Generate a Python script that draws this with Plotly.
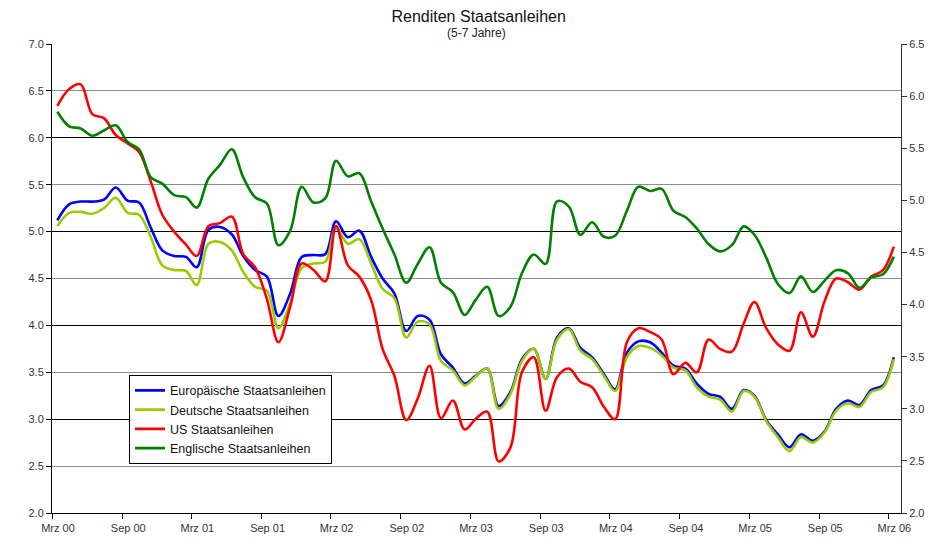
import pandas as pd
import plotly.graph_objects as go

# monthly readings, Mar 2000 .. Mar 2006 (mid-month)
months = pd.date_range('2000-03-01', periods=73, freq='MS') + pd.Timedelta(days=14)

euro = [5.12, 5.29, 5.32, 5.32, 5.34, 5.47, 5.33, 5.31, 5.04, 4.80,
        4.74, 4.73, 4.62, 5.02, 5.05, 4.97, 4.74, 4.59, 4.52, 4.10,
        4.34, 4.73, 4.75, 4.76, 5.11, 4.94, 5.01, 4.73, 4.50, 4.34,
        3.94, 4.10, 4.06, 3.69, 3.55, 3.38, 3.46, 3.54, 3.14, 3.29,
        3.64, 3.75, 3.43, 3.87, 3.97, 3.76, 3.66, 3.48, 3.32, 3.71,
        3.83, 3.82, 3.71, 3.57, 3.54, 3.38, 3.27, 3.24, 3.11, 3.31,
        3.25, 2.99, 2.84, 2.70, 2.84, 2.77, 2.87, 3.11, 3.20, 3.15,
        3.31, 3.36, 3.66]

de = [5.06, 5.20, 5.21, 5.19, 5.25, 5.36, 5.20, 5.18, 4.94, 4.64,
      4.59, 4.58, 4.43, 4.87, 4.89, 4.80, 4.57, 4.41, 4.37, 3.97,
      4.24, 4.61, 4.66, 4.68, 5.04, 4.87, 4.92, 4.66, 4.39, 4.29,
      3.87, 4.04, 4.01, 3.62, 3.52, 3.36, 3.45, 3.54, 3.11, 3.27,
      3.62, 3.75, 3.43, 3.85, 3.96, 3.73, 3.64, 3.46, 3.30, 3.66,
      3.78, 3.76, 3.68, 3.55, 3.52, 3.34, 3.24, 3.21, 3.08, 3.30,
      3.24, 2.98, 2.81, 2.66, 2.81, 2.75, 2.86, 3.09, 3.17, 3.13,
      3.29, 3.34, 3.64]

us = [6.34, 6.52, 6.57, 6.25, 6.21, 6.03, 5.94, 5.85, 5.53, 5.18,
      5.00, 4.86, 4.74, 5.06, 5.09, 5.16, 4.76, 4.62, 4.28, 3.82,
      4.20, 4.66, 4.59, 4.47, 5.06, 4.64, 4.52, 4.27, 3.75, 3.46,
      2.99, 3.22, 3.57, 3.01, 3.20, 2.89, 3.00, 3.08, 2.55, 2.70,
      3.50, 3.66, 3.09, 3.45, 3.54, 3.40, 3.34, 3.13, 3.00, 3.82,
      3.97, 3.93, 3.85, 3.48, 3.60, 3.50, 3.85, 3.75, 3.72, 4.02,
      4.25, 3.97, 3.80, 3.73, 4.14, 3.88, 4.26, 4.50, 4.46, 4.38,
      4.52, 4.59, 4.84]

# UK series is plotted against the right-hand axis
uk = [5.85, 5.71, 5.69, 5.62, 5.67, 5.72, 5.56, 5.49, 5.22, 5.16,
      5.05, 5.03, 4.93, 5.21, 5.34, 5.49, 5.22, 5.03, 4.97, 4.57,
      4.71, 5.13, 4.98, 5.02, 5.38, 5.23, 5.26, 4.99, 4.73, 4.48,
      4.21, 4.39, 4.55, 4.21, 4.12, 3.90, 4.04, 4.17, 3.89, 3.98,
      4.30, 4.48, 4.39, 4.99, 4.94, 4.67, 4.79, 4.65, 4.66, 4.90,
      5.13, 5.09, 5.11, 4.90, 4.84, 4.73, 4.58, 4.51, 4.57, 4.75,
      4.67, 4.45, 4.20, 4.11, 4.27, 4.12, 4.23, 4.33, 4.30, 4.16,
      4.26, 4.29, 4.46]

tick_dates = ['2000-03-01', '2000-09-01', '2001-03-01', '2001-09-01', '2002-03-01',
              '2002-09-01', '2003-03-01', '2003-09-01', '2004-03-01', '2004-09-01',
              '2005-03-01', '2005-09-01', '2006-03-01']
tick_text = ['Mrz 00', 'Sep 00', 'Mrz 01', 'Sep 01', 'Mrz 02', 'Sep 02', 'Mrz 03',
             'Sep 03', 'Mrz 04', 'Sep 04', 'Mrz 05', 'Sep 05', 'Mrz 06']

FONT = 'Liberation Sans, Arial, sans-serif'

# page body has an 8px margin, so the figure is 8px smaller than the window
W, H = 932, 538

fig = go.Figure()
series = [
    ('Europäische Staatsanleihen', euro, '#0000FF', 'y'),
    ('Deutsche Staatsanleihen', de, '#99CC00', 'y'),
    ('US Staatsanleihen', us, '#FF0000', 'y'),
    ('Englische Staatsanleihen', uk, '#008000', 'y2'),
]
for name, vals, color, ax in series:
    fig.add_trace(go.Scatter(
        x=months, y=vals, name=name, yaxis=ax,
        mode='lines',
        line=dict(color=color, width=2.6, shape='spline', smoothing=1.0),
    ))

# empty trace so the overlay axis with the black integer gridlines gets drawn
fig.add_trace(go.Scatter(x=[], y=[], yaxis='y3', showlegend=False, hoverinfo='skip'))

fig.update_layout(
    width=W, height=H,
    margin=dict(l=44, r=39, t=36, b=27),
    paper_bgcolor='white',
    plot_bgcolor='white',
    font=dict(family=FONT, size=11, color='#333333'),
    title=dict(text='Renditen Staatsanleihen', x=0.505, xanchor='center',
               y=1 - 3 / H, yanchor='top',
               font=dict(family=FONT, size=16, color='#111111')),
    annotations=[dict(text='(5-7 Jahre)', xref='paper', yref='paper',
                      x=0.5, y=1 + 11 / 475, yanchor='middle', showarrow=False,
                      font=dict(family=FONT, size=12, color='#222222'))],
    xaxis=dict(
        type='date', range=['2000-03-01', '2006-04-03'],
        tickvals=tick_dates, ticktext=tick_text,
        ticks='outside', ticklen=5, tickcolor='black',
        ticklabelshift=6,
        showline=True, linecolor='black', linewidth=1,
        showgrid=False, zeroline=False,
    ),
    yaxis=dict(
        range=[2, 7], dtick=0.5, tickformat='.1f',
        ticks='outside', ticklen=5, tickcolor='black',
        showline=True, linecolor='black', linewidth=1,
        showgrid=True, gridcolor='#8c8c8c', gridwidth=1, zeroline=False,
    ),
    yaxis2=dict(
        range=[2, 6.5], dtick=0.5, tickformat='.1f',
        overlaying='y', side='right', anchor='x',
        ticks='outside', ticklen=5, tickcolor='#333333',
        showline=True, linecolor='#333333', linewidth=1,
        showgrid=False, zeroline=False,
    ),
    yaxis3=dict(
        range=[2, 7], dtick=1, overlaying='y', anchor='x', side='left',
        showticklabels=False, ticks='', showline=False,
        showgrid=True, gridcolor='black', gridwidth=1, zeroline=False,
    ),
    legend=dict(
        x=(129 - 52) / 849, y=(519 - 379) / 475, xanchor='left', yanchor='top',
        bgcolor='white', bordercolor='black', borderwidth=1,
        font=dict(family=FONT, size=12.5, color='#111111'),
        tracegroupgap=0,
    ),
    showlegend=True,
)

fig.write_html('out.html')
